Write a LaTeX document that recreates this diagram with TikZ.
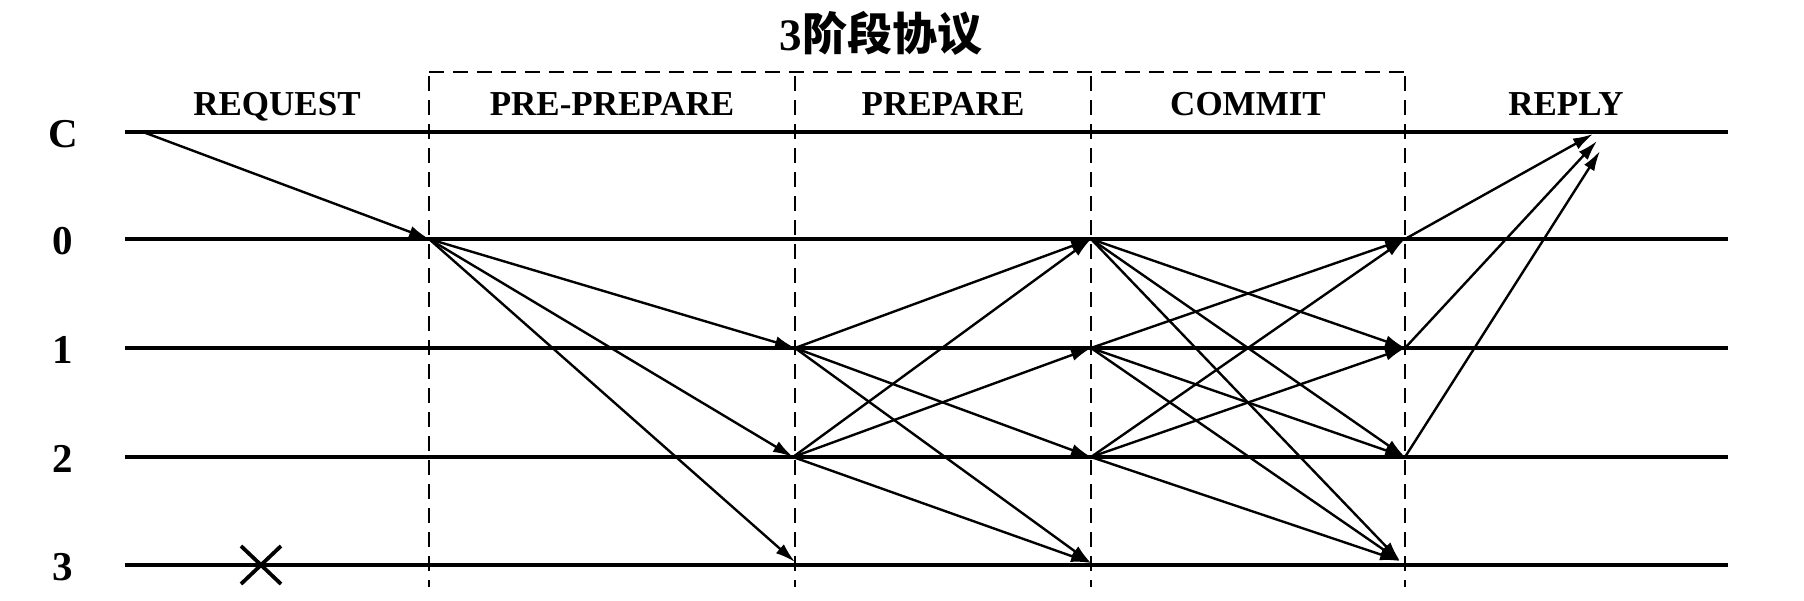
\documentclass[tikz,border=0pt]{standalone}
\usepackage{fontspec}
\setmainfont{Liberation Serif}
\newfontfamily\cjk{Noto Sans CJK SC}
\usetikzlibrary{arrows.meta}
\begin{document}
\begin{tikzpicture}[x=1pt,y=-1pt,
  rowline/.style={line width=3.4pt},
  phasesep/.style={line width=2.8pt, dash pattern=on 15pt off 9pt},
  msg/.style={line width=2.4pt, -{Latex[length=20pt,width=12pt]}},
  phaselabel/.style={font=\fontsize{35}{40}\selectfont\bfseries, anchor=base, inner sep=0pt},
  rowlabel/.style={font=\fontsize{41}{48}\selectfont\bfseries, anchor=base, inner sep=0pt},
  crossmark/.style={line width=3.8pt}]
\useasboundingbox (0,0) rectangle (1804,600);

% title
\node[anchor=base, inner sep=0pt, font=\fontsize{45}{50}\selectfont\bfseries] (title) at (881,50) {3{\cjk 阶段协议}};

% phase labels
\node[phaselabel] (lreq) at (277,115) {REQUEST};
\node[phaselabel] (lpre) at (612,115) {PRE-PREPARE};
\node[phaselabel] (lprep) at (943,115) {PREPARE};
\node[phaselabel] (lcom) at (1248,115) {COMMIT};
\node[phaselabel] (lrep) at (1566,115) {REPLY};

% row labels
\node[rowlabel] (nC) at (63,147) {C};
\node[rowlabel] (n0) at (63,254) {0};
\node[rowlabel] (n1) at (63,363) {1};
\node[rowlabel] (n2) at (63,472) {2};
\node[rowlabel] (n3) at (63,580) {3};

% horizontal time lines
\foreach \n/\y in {C/132,0/239,1/348,2/457,3/565}{
  \coordinate (L\n) at (125,\y);
  \coordinate (R\n) at (1728,\y);
  \draw[rowline] (L\n) -- (R\n);
}

% dashed phase separators
\coordinate (tl) at (429,72);
\coordinate (tr) at (1405,72);
\draw[phasesep] (tl) -- (tr);
\foreach \x/\n in {429/a,795/b,1091/c,1405/d}{
  \coordinate (top\n) at (\x,76);
  \coordinate (bot\n) at (\x,587);
  \draw[phasesep] (top\n) -- (bot\n);
}

% event points
\coordinate (cs) at (143,132);
\coordinate (a0) at (429,239);
\coordinate (b1) at (795,348);
\coordinate (b2) at (793,457);
\coordinate (b3) at (795,562);
\coordinate (c0) at (1091,239);
\coordinate (c1) at (1091,348);
\coordinate (c2) at (1091,457);
\coordinate (c3) at (1091,563);
\coordinate (d0) at (1405,239);
\coordinate (d1) at (1405,348);
\coordinate (d2) at (1405,457);
\coordinate (d3) at (1400,561);
\coordinate (r0) at (1593,134);
\coordinate (r1) at (1597,141);
\coordinate (r2) at (1600,151);

% request
\draw[msg] (cs) -- (a0);
% pre-prepare
\draw[msg] (a0) -- (b1);
\draw[msg] (a0) -- (b2);
\draw[msg] (a0) -- (b3);
% prepare
\draw[msg] (b1) -- (c0);
\draw[msg] (b1) -- (c2);
\draw[msg] (b1) -- (c3);
\draw[msg] (b2) -- (c0);
\draw[msg] (b2) -- (c1);
\draw[msg] (b2) -- (c3);
% commit
\draw[msg] (c0) -- (d1);
\draw[msg] (c0) -- (d2);
\draw[msg] (c0) -- (d3);
\draw[msg] (c1) -- (d0);
\draw[msg] (c1) -- (d2);
\draw[msg] (c1) -- (d3);
\draw[msg] (c2) -- (d0);
\draw[msg] (c2) -- (d1);
\draw[msg] (c2) -- (d3);
% reply
\draw[msg] (d0) -- (r0);
\draw[msg] (d1) -- (r1);
\draw[msg] (d2) -- (r2);

% crashed replica
\coordinate (x1) at (241,546);
\coordinate (x2) at (281,584);
\coordinate (x3) at (241,584);
\coordinate (x4) at (281,546);
\draw[crossmark] (x1) -- (x2);
\draw[crossmark] (x3) -- (x4);
\end{tikzpicture}
\end{document}
